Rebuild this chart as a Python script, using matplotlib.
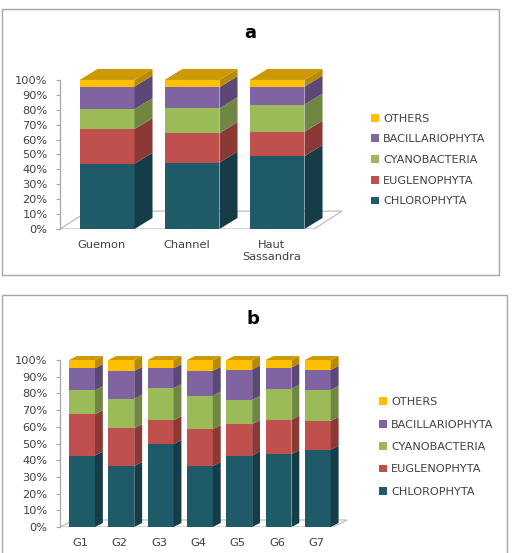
import matplotlib.pyplot as plt
import numpy as np
from matplotlib.patches import Polygon, Rectangle, Patch

# stacked shares (%), bottom to top
groups = ["CHLOROPHYTA", "EUGLENOPHYTA", "CYANOBACTERIA", "BACILLARIOPHYTA", "OTHERS"]

sites_a = ["Guemon", "Channel", "Haut\nSassandra"]
chloro_a = [43.8, 44.6, 48.9]
eugleno_a = [23.2, 19.7, 16.3]
cyano_a = [13.4, 16.7, 18.3]
bacill_a = [15.2, 14.1, 12.0]
others_a = [4.4, 4.9, 4.5]

sites_b = ["G1", "G2", "G3", "G4", "G5", "G6", "G7"]
chloro_b = [42.8, 36.5, 49.7, 36.5, 42.8, 43.6, 46.4]
eugleno_b = [24.7, 22.7, 14.2, 22.1, 18.7, 20.7, 17.1]
cyano_b = [14.4, 17.7, 19.3, 20.1, 14.6, 18.5, 18.6]
bacill_b = [13.2, 16.6, 11.9, 14.8, 18.2, 12.7, 12.0]
others_b = [4.9, 6.5, 4.9, 6.5, 5.7, 4.5, 5.9]

front = ["#1F5A69", "#C0504D", "#9BBB59", "#8064A2", "#FFC000"]
side = ["#153D47", "#8C3835", "#6F8742", "#5C4877", "#B88A00"]
top_col = "#CC9A06"

W, H = 520, 553
fig = plt.figure(figsize=(W / 100, H / 100), dpi=100)


def px_axes(l, t, r, b):
    return fig.add_axes([l / W, 1 - b / H, (r - l) / W, (b - t) / H])


def panel(ax, cats, series, xlim, ylim, bw, dx, dy, fdx, fdy, floor_r, lab_shift):
    ax.set_xlim(*xlim)
    ax.set_ylim(*ylim)
    x0 = xlim[0]
    # floor
    ax.add_patch(Polygon([(x0, 0), (floor_r, 0), (floor_r + fdx, fdy), (x0 + fdx, fdy)],
                         closed=True, facecolor="white", edgecolor="#BFBFBF", lw=0.9, zorder=1))
    x = np.arange(len(cats))
    bottom = np.zeros(len(cats))
    for k, vals in enumerate(series):
        vals = np.array(vals)
        ax.bar(x, vals, bw, bottom=bottom, color=front[k], zorder=3)
        for i in range(len(cats)):
            xr = x[i] + bw / 2
            b0, b1 = bottom[i], bottom[i] + vals[i]
            ax.add_patch(Polygon([(xr, b0), (xr + dx, b0 + dy), (xr + dx, b1 + dy), (xr, b1)],
                                 closed=True, facecolor=side[k], edgecolor="none", zorder=3))
        bottom = bottom + vals
    for i in range(len(cats)):
        xl, xr, t = x[i] - bw / 2, x[i] + bw / 2, bottom[i]
        ax.add_patch(Polygon([(xl, t), (xr, t), (xr + dx, t + dy), (xl + dx, t + dy)],
                             closed=True, facecolor=top_col, edgecolor="none", zorder=3))
    for s in ax.spines.values():
        s.set_visible(False)
    ax.plot([x0, x0], [0, 100], color="#A6A6A6", lw=0.9, clip_on=False, zorder=2)
    ax.set_yticks(np.arange(0, 101, 10))
    ax.set_yticklabels([f"{v}%" for v in range(0, 101, 10)])
    ax.tick_params(axis="y", length=3, color="#A6A6A6", labelsize=8.2, labelcolor="#404040", pad=6)
    ax.set_xticks(x + lab_shift)
    ax.set_xticklabels(cats)
    ax.tick_params(axis="x", length=0, labelsize=8.2, labelcolor="#404040", pad=8)


# frames
fig.add_artist(Rectangle((2 / W, 1 - 275 / H), 497 / W, 266 / H, transform=fig.transFigure,
                         fill=False, edgecolor="#A6A6A6", lw=1))
fig.add_artist(Rectangle((2 / W, 1 - 560 / H), 505 / W, 265 / H, transform=fig.transFigure,
                         fill=False, edgecolor="#A6A6A6", lw=1))
fig.text(250 / W, 1 - 33 / H, "a", ha="center", va="center", fontsize=13, fontweight="bold")
fig.text(253 / W, 1 - 319 / H, "b", ha="center", va="center", fontsize=13, fontweight="bold")

axa = px_axes(60, 60, 345, 229)
panel(axa, sites_a, [chloro_a, eugleno_a, cyano_a, bacill_a, others_a],
      (-0.553, 2.8), (0, 113.4), 0.647, 0.212, 7.4, 0.33, 12, 2.435, -0.06)

axb = px_axes(60, 340, 350, 527)
panel(axb, sites_b, [chloro_b, eugleno_b, cyano_b, bacill_b, others_b],
      (-0.56, 6.82), (0, 112), 0.66, 0.2, 2.4, 0.36, 4.2, 6.39, -0.04)

handles = [Patch(facecolor=front[k], label=groups[k]) for k in range(4, -1, -1)]
for cy, lx, sp in [(160, 371, 0.95), (447, 379, 1.1)]:
    fig.legend(handles=handles, loc="center left", bbox_to_anchor=(lx / W, 1 - cy / H),
               frameon=False, fontsize=8.1, handlelength=0.7, handleheight=0.7,
               handletextpad=0.4, labelspacing=sp, borderpad=0, borderaxespad=0,
               labelcolor="#404040")

fig.savefig("out.png", dpi=100)
